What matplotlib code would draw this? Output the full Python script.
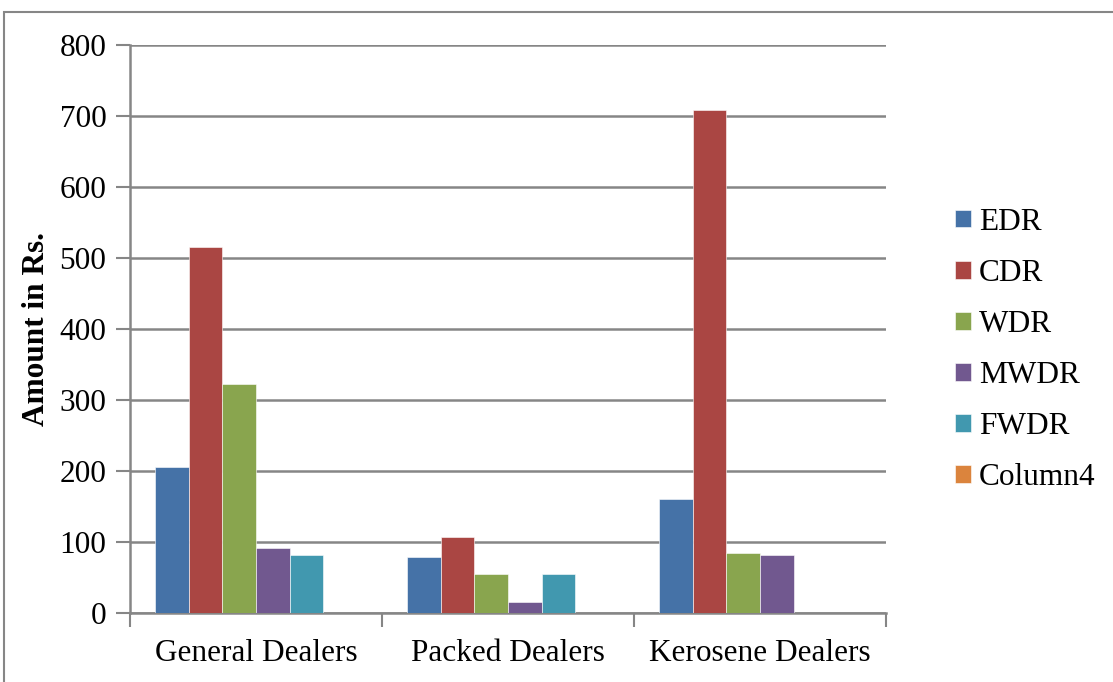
import numpy as np
import matplotlib.pyplot as plt

categories = ['General Dealers', 'Packed Dealers', 'Kerosene Dealers']
series = ['EDR', 'CDR', 'WDR', 'MWDR', 'FWDR', 'Column4']
edr = [205, 79, 161]
cdr = [516, 107, 709]
wdr = [322, 55, 84]
mwdr = [91, 16, 81]
fwdr = [82, 55, 0]
column4 = [0, 0, 0]
colors = ['#4572A7', '#AA4643', '#89A54E', '#71588F', '#4198AF', '#DB843D']

plt.rcParams['font.family'] = ['Liberation Serif', 'DejaVu Serif']

fig = plt.figure(figsize=(11.13, 6.82), dpi=100)
ax = fig.add_axes([130 / 1113, 1 - 613 / 682, 756 / 1113, 568 / 682])

x = np.arange(len(categories))
width = 0.133
values = [edr, cdr, wdr, mwdr, fwdr, column4]
for i, (name, vals) in enumerate(zip(series, values)):
    offs = (i - 2.5) * width
    ax.bar(x + offs, vals, width, color=colors[i], label=name,
           edgecolor='white', linewidth=0.4, zorder=3)

ax.set_xlim(-0.5, 2.5)
ax.set_ylim(0, 800)
ax.set_yticks(range(0, 801, 100))
ax.yaxis.grid(True, color='#868686', linewidth=1.8, zorder=0)
ax.set_xticks(x)
ax.set_xticklabels(categories)
ax.set_xticks([-0.5, 0.5, 1.5, 2.5], minor=True)
ax.tick_params(axis='x', which='major', length=0, pad=19, labelsize=22.5)
ax.tick_params(axis='x', which='minor', length=10, width=1.5, color='#868686')
ax.tick_params(axis='y', length=10, width=1.5, color='#868686', labelsize=22.5, pad=7)

for s in ['top', 'right']:
    ax.spines[s].set_visible(False)
for s in ['left', 'bottom']:
    ax.spines[s].set_color('#868686')
    ax.spines[s].set_linewidth(1.8)

ax.set_ylabel('Amount in Rs.', fontsize=22.5, fontweight='bold', labelpad=6)

ax.legend(loc='center left', bbox_to_anchor=(1.075, 0.463), frameon=False,
          fontsize=22.5, handlelength=0.5, handleheight=0.5, labelspacing=0.71,
          handletextpad=0.25, borderaxespad=0)

# outer chart border
fig.add_artist(plt.Rectangle((4 / 1113, -0.1), 1.2, 1 - 12 / 682 + 0.1,
                             transform=fig.transFigure, fill=False,
                             edgecolor='#868686', linewidth=1.5))

fig.savefig('out.png', dpi=100)
